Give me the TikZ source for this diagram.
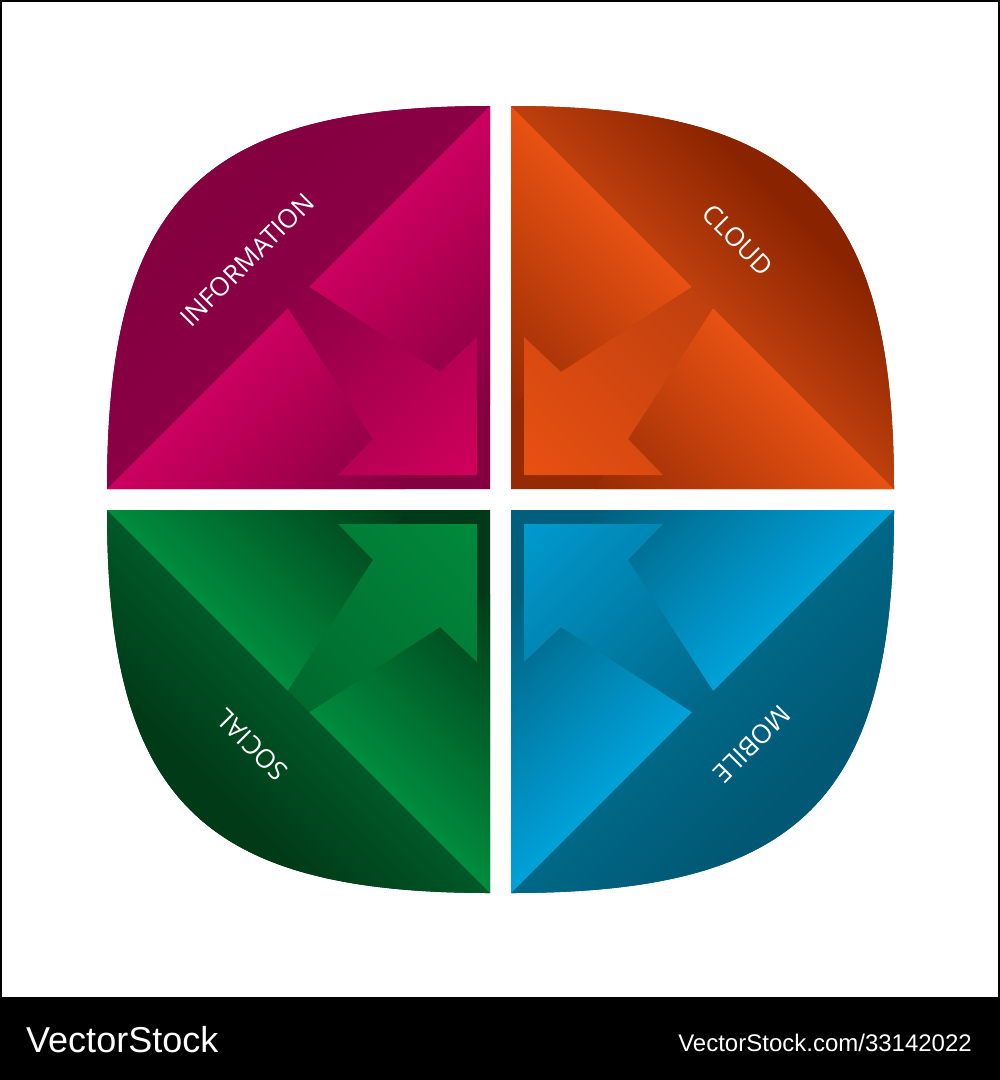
\documentclass[tikz,border=0pt]{standalone}
\usepackage{fontspec}
\setmainfont{Open Sans}
\newfontfamily\vsfont{Liberation Sans}
\colorlet{gA}{black}
\colorlet{gB}{black}
\pgfdeclareverticalshading[gA,gB]{qramp}{100bp}{color(0bp)=(gB); color(40bp)=(gB); color(60bp)=(gA); color(100bp)=(gA)}
\tikzset{
  ramp/.code 2 args={\colorlet{gB}{#1}\colorlet{gA}{#2}\pgfkeysalso{/tikz/shading=qramp}},
  lab/.style={text=white, font=\fontsize{26}{30}\selectfont, inner sep=0pt},
}
% Information
\definecolor{infStrip}{HTML}{84003F}
\definecolor{infCapIn}{HTML}{8E0049}
\definecolor{infCapOut}{HTML}{84003F}
\definecolor{infPD}{HTML}{84003F}
\definecolor{infPL}{HTML}{CC0060}
\definecolor{infAT}{HTML}{D0005C}
\definecolor{infAL}{HTML}{8E0046}
% Cloud
\definecolor{cldStrip}{HTML}{962A04}
\definecolor{cldCapIn}{HTML}{D24A12}
\definecolor{cldCapOut}{HTML}{8A2400}
\definecolor{cldPD}{HTML}{982B04}
\definecolor{cldPL}{HTML}{E85212}
\definecolor{cldAT}{HTML}{E85012}
\definecolor{cldAL}{HTML}{C0400E}
% Social
\definecolor{socStrip}{HTML}{003A18}
\definecolor{socCapIn}{HTML}{006430}
\definecolor{socCapOut}{HTML}{003A16}
\definecolor{socPD}{HTML}{003C18}
\definecolor{socPL}{HTML}{008C3E}
\definecolor{socAT}{HTML}{008A3C}
\definecolor{socAL}{HTML}{006A2E}
% Mobile
\definecolor{mobStrip}{HTML}{005F7D}
\definecolor{mobCapIn}{HTML}{006E8E}
\definecolor{mobCapOut}{HTML}{005874}
\definecolor{mobPD}{HTML}{005F7D}
\definecolor{mobPL}{HTML}{00A2DA}
\definecolor{mobAT}{HTML}{009ACF}
\definecolor{mobAL}{HTML}{00688A}
% #1 transform, #2 shading angle, #3 strip, #4 cap inner, #5 cap outer,
% #6 piece dark, #7 piece light, #8 arrow tip, #9 arrow tail
\newcommand\quadrant[9]{%
  \begin{scope}[#1]
    \fill[#3] (0,0) -- (383,0) .. controls (383,289) and (289,383) .. (0,383) -- cycle;
    \shade[ramp={#4}{#5}, shading angle=#2] (53.95,53.95) (437.55,437.55)
      (383,0) .. controls (383,289) and (289,383) .. (0,383) -- cycle;
    \shade[ramp={#6}{#7}, shading angle=#2] (-147.5,-147.5) (381,381)
      (181,202) -- (0,383) -- (0,84) -- cycle;
    \shade[ramp={#6}{#7}, shading angle=#2] (-147.5,-147.5) (381,381)
      (202,181) -- (383,0) -- (84,0) -- cycle;
    \shade[ramp={#8}{#9}, shading angle=#2] (-212.2,-212.2) (417.2,417.2)
      (181,202) -- (50,117) -- (13,152) -- (13,14) -- (152,14) -- (117,50) -- (202,181) -- cycle;
  \end{scope}}
\begin{document}
\begin{tikzpicture}[x=1pt,y=-1pt]
  \path[use as bounding box] (0,0) rectangle (1000,1080);
  \fill[black] (0,0) rectangle (1000,1080);
  \fill[white] (2,2) rectangle (998,997);
  \quadrant{shift={(490,489)},xscale=-1,yscale=-1}{45}{infStrip}{infCapIn}{infCapOut}{infPD}{infPL}{infAT}{infAL}
  \quadrant{shift={(511,489)},xscale=1,yscale=-1}{-45}{cldStrip}{cldCapIn}{cldCapOut}{cldPD}{cldPL}{cldAT}{cldAL}
  \quadrant{shift={(490,510)},xscale=-1,yscale=1}{135}{socStrip}{socCapIn}{socCapOut}{socPD}{socPL}{socAT}{socAL}
  \quadrant{shift={(511,510)},xscale=1,yscale=1}{225}{mobStrip}{mobCapIn}{mobCapOut}{mobPD}{mobPL}{mobAT}{mobAL}
  \node[lab, rotate=45] (inf) at (247,260) {INFORMATION};
  \node[lab, rotate=-45] (cld) at (738,240) {CLOUD};
  \node[lab, rotate=135] (soc) at (252,745) {SOCIAL};
  \node[lab, rotate=-135] (mob) at (752,744) {MOBILE};
  \node[anchor=base west, inner sep=0pt, text=white, font=\vsfont\fontsize{36}{40}\selectfont] (vs) at (26,1052) {VectorStock};
  \node[anchor=base east, inner sep=0pt, text=white, font=\vsfont\fontsize{24}{28}\selectfont] (vsurl) at (972,1051) {VectorStock.com/33142022};
\end{tikzpicture}
\end{document}
